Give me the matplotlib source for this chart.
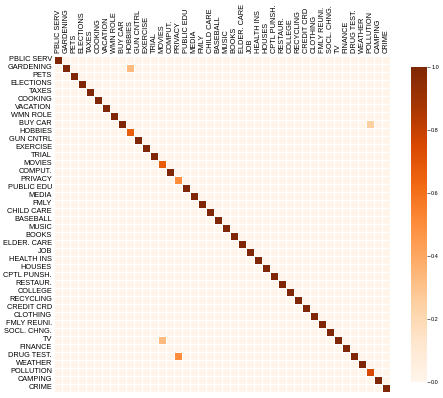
import numpy as np
import pandas as pd
import matplotlib
matplotlib.use("Agg")
import matplotlib.pyplot as plt
import seaborn as sns

labels = ["PBLIC SERV", "GARDENING", "PETS", "ELECTIONS", "TAXES", "COOKING",
          "VACATION", "WMN ROLE", "BUY CAR", "HOBBIES", "GUN CNTRL", "EXERCISE",
          "TRIAL", "MOVIES", "COMPUT.", "PRIVACY", "PUBLIC EDU", "MEDIA", "FMLY",
          "CHILD CARE", "BASEBALL", "MUSIC", "BOOKS", "ELDER. CARE", "JOB",
          "HEALTH INS", "HOUSES", "CPTL PUNSH.", "RESTAUR.", "COLLEGE",
          "RECYCLING", "CREDIT CRD", "CLOTHING", "FMLY REUNI.", "SOCL. CHNG.",
          "TV", "FINANCE", "DRUG TEST.", "WEATHER", "POLLUTION", "CAMPING", "CRIME"]

# diagonal values that are not 1.0
diag_other = {"HOBBIES": 0.67, "MOVIES": 0.67, "PRIVACY": 0.5, "POLLUTION": 0.75}
# off-diagonal cells: (row, column, value)
off_diag = [("GARDENING", "HOBBIES", 0.33),
            ("TV", "MOVIES", 0.33),
            ("DRUG TEST.", "PRIVACY", 0.5),
            ("BUY CAR", "POLLUTION", 0.25)]

df = pd.DataFrame(0.0, index=labels, columns=labels)
for lab in labels:
    df.loc[lab, lab] = diag_other.get(lab, 1.0)
for r, c, v in off_diag:
    df.loc[r, c] = v

plt.rcParams['font.family'] = ['Liberation Sans', 'DejaVu Sans']

fig = plt.figure(figsize=(4.43, 3.98), dpi=100)
ax = fig.add_axes([54 / 443, 1 - 392 / 398, 336 / 443, 337 / 398])
cax = fig.add_axes([411 / 443, 1 - 382 / 398, 16 / 443, 315 / 398])

sns.heatmap(df, ax=ax, cbar_ax=cax, cmap="Oranges", vmin=0, vmax=1,
            linewidths=0.6, linecolor="white", square=True,
            xticklabels=True, yticklabels=True)

ax.xaxis.tick_top()
ax.set_xticklabels(labels, rotation=90, fontsize=5.3)
ax.set_yticklabels(labels, rotation=0, fontsize=5.3)
ax.tick_params(length=0, pad=1.5)

cax.tick_params(labelsize=4, length=2, width=0.4, pad=1)
cax.set_yticks([0, 0.2, 0.4, 0.6, 0.8, 1.0])
for s in cax.spines.values():
    s.set_visible(False)

fig.savefig("out.png", dpi=100)
